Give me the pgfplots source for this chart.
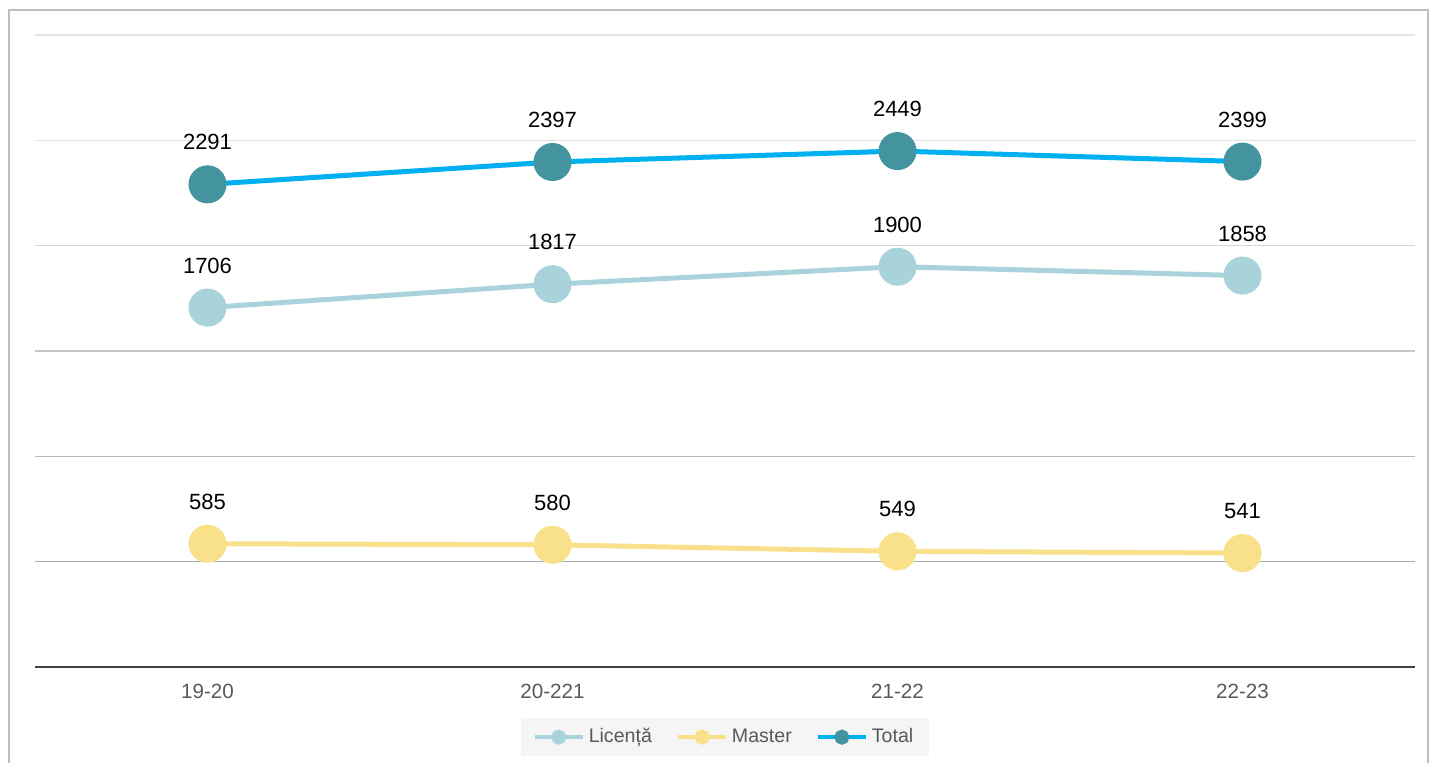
\documentclass[border=0pt]{standalone}
\usepackage{pgfplots}
\pgfplotsset{compat=1.18}
\usepackage{fontspec}
\setmainfont{Liberation Sans}

\definecolor{licc}{HTML}{A9D3DB}
\definecolor{masc}{HTML}{F9E08A}
\definecolor{totl}{HTML}{00B0F0}
\definecolor{totm}{HTML}{43949F}
\definecolor{ticktext}{HTML}{595959}
\definecolor{axisline}{HTML}{404040}
\definecolor{framegray}{HTML}{BFBFBF}
\definecolor{legbg}{HTML}{F5F5F5}

\begin{document}
\begin{tikzpicture}
\begin{axis}[
  at={(17.5pt,48pt)}, anchor=south west,
  scale only axis, width=690pt, height=316pt,
  xmin=-0.5, xmax=3.5, ymin=0, ymax=3000,
  xtick={0,1,2,3},
  xticklabels={19-20,20-221,21-22,22-23},
  ytick=\empty,
  axis y line=none,
  axis x line*=bottom,
  x axis line style={draw=axisline, line width=1.25pt, -},
  major tick length=0pt,
  xticklabel style={font=\fontsize{10.3}{12}\selectfont, text=ticktext, yshift=-5pt},
  clip=false,
  /pgf/number format/.cd, 1000 sep={}, assume math mode=true, /pgfplots/.cd,
  nodes near coords,
  every node near coord/.append style={anchor=center, yshift=21pt,
    font=\fontsize{11}{13}\selectfont, text=black},
  legend columns=3,
  legend cell align=left,
  legend style={at={(0.5,-0.111)}, anchor=center, draw=none, fill=legbg,
    font=\fontsize{9.8}{12}\selectfont, text=ticktext,
    inner xsep=6pt, inner ysep=3pt,
    /tikz/every even column/.append style={column sep=10pt}},
]
% gridlines, getting darker towards the bottom
\draw[color=black!10, line width=0.75pt] (axis cs:-0.5,3000) -- (axis cs:3.5,3000);
\draw[color=black!12, line width=0.75pt] (axis cs:-0.5,2500) -- (axis cs:3.5,2500);
\draw[color=black!16, line width=0.75pt] (axis cs:-0.5,2000) -- (axis cs:3.5,2000);
\draw[color=black!22, line width=0.75pt] (axis cs:-0.5,1500) -- (axis cs:3.5,1500);
\draw[color=black!27, line width=0.75pt] (axis cs:-0.5,1000) -- (axis cs:3.5,1000);
\draw[color=black!33, line width=0.75pt] (axis cs:-0.5,500) -- (axis cs:3.5,500);

\addplot[color=licc, line width=2.5pt, mark=*, mark size=9.25pt,
  mark options={fill=licc, draw=licc, line width=0.5pt},
  legend image code/.code={
    \draw[licc, line width=2pt] (0pt,0pt) -- (24pt,0pt);
    \fill[licc] (12pt,0pt) circle (2.5pt);}]
  coordinates {(0,1706) (1,1817) (2,1900) (3,1858)};
\addlegendentry{Licență}

\addplot[color=masc, line width=2.5pt, mark=*, mark size=9.25pt,
  mark options={fill=masc, draw=masc, line width=0.5pt},
  legend image code/.code={
    \draw[masc, line width=2pt] (0pt,0pt) -- (24pt,0pt);
    \fill[masc] (12pt,0pt) circle (2.5pt);}]
  coordinates {(0,585) (1,580) (2,549) (3,541)};
\addlegendentry{Master}

\addplot[color=totl, line width=2.5pt, mark=*, mark size=9.25pt,
  mark options={fill=totm, draw=totm, line width=0.5pt},
  legend image code/.code={
    \draw[totl, line width=2pt] (0pt,0pt) -- (24pt,0pt);
    \fill[totm] (12pt,0pt) circle (2.5pt);}]
  coordinates {(0,2291) (1,2397) (2,2449) (3,2399)};
\addlegendentry{Total}
\end{axis}
% outer frame
\draw[framegray, line width=0.75pt] (4.5pt,0pt) -- (4.5pt,376.5pt) -- (714pt,376.5pt) -- (714pt,0pt);
\pgfresetboundingbox
\useasboundingbox (0pt,0pt) rectangle (715pt,381.5pt);
\end{tikzpicture}
\end{document}
